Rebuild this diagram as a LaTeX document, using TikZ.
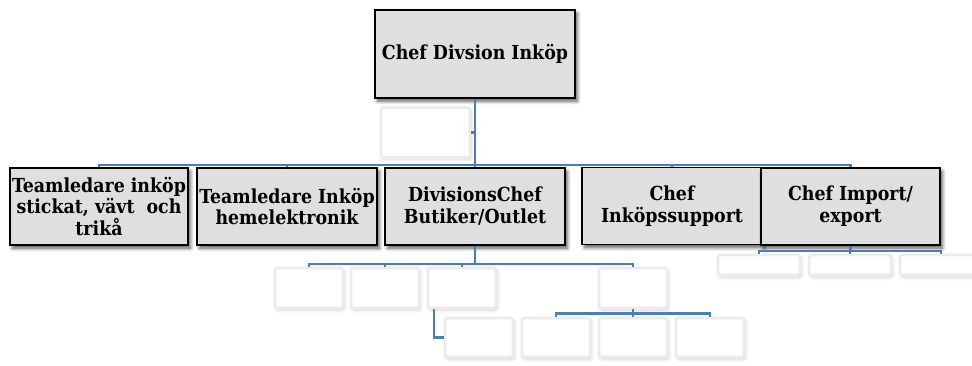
\documentclass[tikz,border=0pt]{standalone}
\usepackage{fontspec}
\setmainfont{DejaVu Serif Condensed}
\usetikzlibrary{shadows.blur}
\definecolor{orgLine}{HTML}{4A7EBB}
\definecolor{orgFill}{HTML}{DFDFDF}
\definecolor{orgGhost}{HTML}{EBEBEB}

\begin{document}
\begin{tikzpicture}[x=0.02cm,y=-0.02cm,
  font=\fontsize{11}{12.5}\selectfont\bfseries,
  rolebox/.style={draw=black,line width=1.1pt,fill=orgFill,align=center,inner sep=1pt,
    blur shadow={shadow xshift=1.4pt,shadow yshift=-1.8pt,shadow blur steps=6,shadow blur radius=2pt,shadow opacity=65}},
  ghostbox/.style={draw=orgGhost,line width=1.6pt,fill=white,rounded corners=1pt,
    blur shadow={shadow xshift=0.8pt,shadow yshift=-1.2pt,shadow blur steps=5,shadow opacity=18}},
  link/.style={draw=orgLine,line width=1.25pt}]
  \useasboundingbox (0,0) rectangle (972,365);

  % top
  \node[rolebox,minimum width=4cm,minimum height=1.76cm] (top) at (475,54) {Chef Divsion Inköp};
  \node[ghostbox,minimum width=1.78cm,minimum height=1.0cm] (asst) at (425.5,132.5) {};

  % first row
  \node[rolebox,minimum width=3.56cm,minimum height=1.54cm] (t1) at (99,206.5)
    {Teamledare inköp\\stickat, vävt\ \ och\\trikå};
  \node[rolebox,minimum width=3.6cm,minimum height=1.54cm] (t2) at (287,206.5)
    {Teamledare Inköp\\hemelektronik};
  \node[rolebox,minimum width=3.6cm,minimum height=1.54cm] (t3) at (475,206.5)
    {DivisionsChef\\Butiker/Outlet};
  \node[rolebox,minimum width=3.6cm,minimum height=1.54cm] (t4) at (672,206)
    {Chef\\Inköpssupport};
  \node[rolebox,minimum width=3.58cm,minimum height=1.54cm] (t5) at (850.5,206.5)
    {Chef Import/\\export};

  % empty boxes
  \foreach \nm/\xx in {b1/309,b2/385,b3/462,b4/633}
    \node[ghostbox,minimum width=1.36cm,minimum height=0.8cm] (\nm) at (\xx,288) {};
  \foreach \nm/\xx in {c1/479,c2/556,c3/633,c4/710}
    \node[ghostbox,minimum width=1.36cm,minimum height=0.78cm] (\nm) at (\xx,337.5) {};
  \foreach \nm/\xx in {d1/759,d2/850,d3/941}
    \node[ghostbox,minimum width=1.64cm,minimum height=0.4cm] (\nm) at (\xx,265) {};

  % connectors
  \draw[link] (top) -- (t3);
  \foreach \k in {t1,t2,t4,t5}
    \draw[link] (top.south) -- ++(0,66) -| (\k.north);
  \draw[link] (asst.east) -- (asst.east -| top.south);
  \foreach \k in {b1,b2,b3,b4}
    \draw[link] (t3.south) -- ++(0,18) -| (\k.north);
  \draw[link] ([xshift=0.14cm]b3.south west) |- (c1.west);
  \draw[link] (b4) -- (c3);
  \foreach \k in {c2,c4}
    \draw[link] (b4.south) -- ++(0,4) -| (\k.north);
  \foreach \k in {d1,d2,d3}
    \draw[link] (t5.south) -- ++(0,5) -| (\k.north);
\end{tikzpicture}
\end{document}
